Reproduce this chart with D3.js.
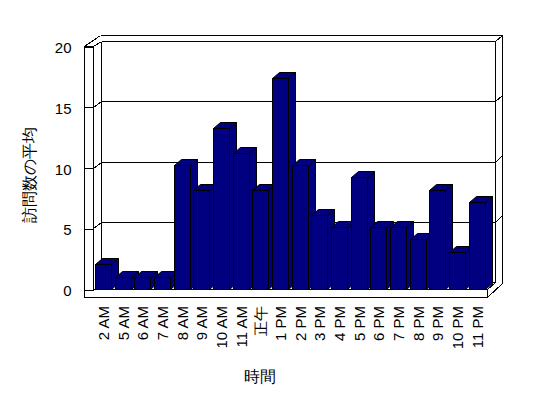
<!DOCTYPE html>
<html><head><meta charset="utf-8">
<script src="https://cdn.jsdelivr.net/npm/d3@7"></script>
<style>
html,body{margin:0;padding:0;background:#fff;}
svg{display:block;}
text{font-family:"Liberation Sans",Arial,sans-serif;fill:#000;}
</style></head>
<body>
<script>
const categories = ["2 AM","5 AM","6 AM","7 AM","8 AM","9 AM","10 AM","11 AM","正午","1 PM","2 PM","3 PM","4 PM","5 PM","6 PM","7 PM","8 PM","9 PM","10 PM","11 PM"];
const values = [2,1,1,1,10,8,13,11,8,17,10,6,5,9,5,5,4,8,3,7];
const yTicks = [0,5,10,15,20];
const yTitle = "訪問数の平均";
const xTitle = "時間";

const W = 548, H = 398;
const svg = d3.select("body").append("svg").attr("width", W).attr("height", H);
svg.append("rect").attr("width", W).attr("height", H).attr("fill", "#fff");

const x = d3.scaleBand().domain(categories).range([93.3, 486.7]).padding(0);
const yBar = d3.scaleLinear().domain([0, 20]).range([289, 41]);
const yFront = d3.scaleLinear().domain([0, 20]).range([289, 46]);
const yBack = d3.scaleLinear().domain([0, 20]).range([282, 41]);

const s = v => Math.round(v) + 0.5;
const lineG = svg.append("g").attr("stroke", "#000").attr("stroke-width", 1).attr("fill", "none").attr("shape-rendering", "crispEdges");
function ln(x1, y1, x2, y2) { lineG.append("line").attr("x1", s(x1)).attr("y1", s(y1)).attr("x2", s(x2)).attr("y2", s(y2)); }

const xL0 = x.range()[0], xR0 = x.range()[1];
const backL = 101, backR = 495, outerR = 501.5, outerT = 34.5;
const leftOuter = 84.3;

// back wall
ln(backL, yBack(20), backR, yBack(20));
ln(backL, yBack(20), backL, yBack(0));
ln(backR, yBack(20), backR, yBack(0));
ln(backL, yBack(0), backR, yBack(0));
ln(99.5, outerT, outerR, outerT);
ln(outerR, outerT, outerR, 283);
ln(backR, yBack(20), outerR, outerT);
// gridlines
yTicks.filter(v => v > 0 && v < 20).forEach(v => {
  ln(backL, yBack(v), backR, yBack(v));
  ln(xL0, yFront(v), backL, yBack(v));
  ln(backR, yBack(v), outerR, yBack(v) - 6.5);
});
// left wall top
ln(leftOuter, yFront(20), 99.5, outerT);
ln(xL0, yFront(20), backL, yBack(20));
// floor side
ln(xR0, yFront(0), backR, yBack(0));
ln(xR0, 297, outerR, 283);

// bars
const dx = 7, dy = -6;
const bw = x.bandwidth() * 0.82;
const barG = svg.append("g").attr("fill", "#000080").attr("stroke", "#000").attr("stroke-width", 1).attr("stroke-linejoin", "miter");
categories.forEach((c, i) => {
  const x0 = Math.round(x(c) + (x.bandwidth() - bw) / 2) + 0.5;
  const x1 = x0 + Math.round(bw);
  const yb = s(yBar(0));
  const yt = s(yBar(values[i]));
  const g = barG.append("g");
  g.append("polygon").attr("points", [[x1, yb], [x1 + dx, yb + dy], [x1 + dx, yt + dy], [x1, yt]].join(" "));
  g.append("polygon").attr("points", [[x0, yt], [x0 + dx, yt + dy], [x1 + dx, yt + dy], [x1, yt]].join(" "));
  g.append("rect").attr("x", x0).attr("y", yt).attr("width", x1 - x0).attr("height", yb - yt);
});

// front L (left wall front face + floor front face)
svg.append("path").attr("fill", "#fff").attr("stroke", "#000").attr("shape-rendering", "crispEdges")
  .attr("d", `M${s(leftOuter)},${s(yFront(20))}V${s(297)}H${s(xR0)}V${s(yFront(0))}H${s(xL0)}V${s(yFront(20))}Z`);
categories.forEach(c => ln(x(c), yFront(0), x(c), 297));

// y axis (ticks on front face of left wall)
const yAxis = d3.axisLeft(yFront).tickValues(yTicks).tickSizeInner(xL0 - leftOuter).tickSizeOuter(0).tickPadding(13);
const ya = svg.append("g").attr("transform", `translate(${s(xL0)},0.5)`).call(yAxis);
ya.select(".domain").remove();
ya.selectAll("line").attr("stroke", "#000").attr("shape-rendering", "crispEdges");
ya.selectAll("text").attr("font-size", 15).attr("font-family", '"Liberation Sans",Arial,sans-serif').attr("dy", "0.4em");
ya.attr("font-size", null);

// x labels
svg.append("g").selectAll("text").data(categories).join("text")
  .attr("transform", d => `translate(${x(d) + x.bandwidth() / 2 + 0.5},306) rotate(-90)`)
  .attr("text-anchor", "end").attr("dy", "0.35em").attr("font-size", 15).text(d => d);

// titles
svg.append("text").attr("transform", "translate(29,175) rotate(-90)").attr("text-anchor", "middle")
  .attr("dy", "0.35em").attr("font-size", 16).attr("font-family", '"Noto Sans CJK JP",sans-serif').text(yTitle);
svg.append("text").attr("x", 260).attr("y", 376).attr("text-anchor", "middle")
  .attr("dy", "0.35em").attr("font-size", 16).attr("font-family", '"Noto Sans CJK JP",sans-serif').text(xTitle);
</script>
</body></html>
